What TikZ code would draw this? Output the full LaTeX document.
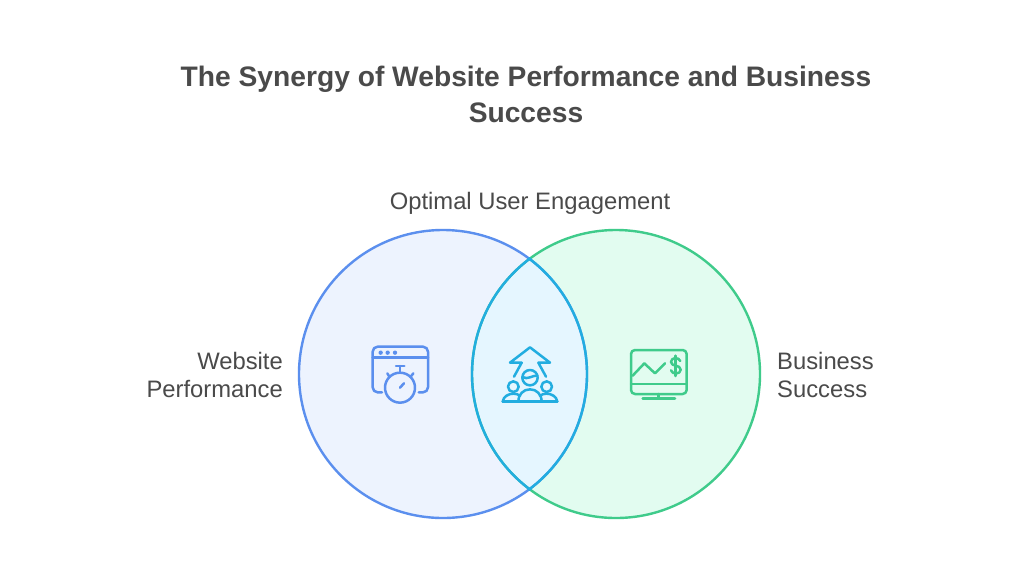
\documentclass[tikz,border=0pt]{standalone}
\usepackage{fontspec}
\setmainfont{Liberation Sans}
\definecolor{txt}{HTML}{4A4A4A}
\definecolor{blueS}{HTML}{5B8FEE}
\definecolor{blueF}{HTML}{EDF3FE}
\definecolor{greenS}{HTML}{3FCB8B}
\definecolor{greenF}{HTML}{E2FCF0}
\definecolor{cyanS}{HTML}{22ADE0}
\definecolor{cyanF}{HTML}{E5F6FF}
\tikzset{
  ring/.style={line width=2.4pt},
  ico/.style={line width=2.5pt,line cap=round,line join=round},
  title/.style={font=\fontsize{28.2}{36}\selectfont\bfseries,text=txt,align=center},
  lbl/.style={font=\fontsize{23.8}{28}\selectfont,text=txt,inner sep=0pt}
}
\begin{document}
\begin{tikzpicture}[x=1pt,y=-1pt]
\useasboundingbox (0,0) rectangle (1024,576);
\fill[white] (0,0) rectangle (1024,576);
% circles
\fill[blueF] (443,374) circle[radius=144];
\fill[greenF] (616,374) circle[radius=144];
\begin{scope}
  \clip (443,374) circle[radius=144];
  \fill[cyanF] (616,374) circle[radius=144];
\end{scope}
\draw[ring,blueS] (443,374) circle[radius=144];
\draw[ring,greenS] (616,374) circle[radius=144];
\begin{scope}
  \clip (443,374) circle[radius=145.5];
  \draw[ring,cyanS] (616,374) circle[radius=144];
\end{scope}
\begin{scope}
  \clip (616,374) circle[radius=145.5];
  \draw[ring,cyanS] (443,374) circle[radius=144];
\end{scope}
% texts
\node[title] (ttl) at (526,94) {The Synergy of Website Performance and Business\\Success};
\node[lbl] (top) at (530,203.5) {Optimal User Engagement};
\node[lbl,align=right,anchor=east] (web) at (283,374.5) {Website\\Performance};
\node[lbl,align=left,anchor=west] (biz) at (777,374.5) {Business\\Success};
% stopwatch icon
\begin{scope}[ico,blueS,shift={(360,335)},x=0.3333pt,y=-0.3333pt]
  \draw[rounded corners=5pt] (66,172) -- (38,172) -- (38,35) -- (204,35) -- (204,172) -- (176,172);
  \draw (38,68) -- (204,68);
  \fill (62,53) circle[radius=6.5] (83,53) circle[radius=6.5] (105,53) circle[radius=6.5];
  \draw (120,158) circle[radius=45];
  \draw (120,113) -- (120,93);
  \draw (108,93) -- (133,93);
  \draw (152,125) -- (160,115);
  \draw (88,125) -- (82,115);
  \draw (120,158) -- (132,145);
\end{scope}
% engagement icon
\begin{scope}[ico,cyanS,shift={(490,335)},x=0.3333pt,y=-0.3333pt]
  \draw (72,125) -- (95,83) -- (60,83) -- (120,37) -- (180,83) -- (145,83) -- (168,125);
  \draw (120,128) circle[radius=23];
  \draw (98,126) .. controls (112,136) and (128,120) .. (142,122);
  \draw (70,155) circle[radius=16];
  \draw (170,155) circle[radius=16];
  \draw (38,200) -- (202,200);
  \draw (85,200) .. controls (85,178) and (100,163) .. (120,163) .. controls (140,163) and (155,178) .. (155,200);
  \draw (38,200) .. controls (40,185) and (55,176) .. (70,176) .. controls (78,176) and (84,178) .. (90,182);
  \draw (202,200) .. controls (200,185) and (185,176) .. (170,176) .. controls (162,176) and (156,178) .. (150,182);
\end{scope}
% monitor icon
\begin{scope}[ico,greenS,shift={(620,335)},x=0.3333pt,y=-0.3333pt]
  \draw[rounded corners=4pt] (33,45) rectangle (200,177);
  \draw (33,147) -- (200,147);
  \draw (115,177) -- (115,190);
  \draw (68,190) -- (165,190);
  \draw (38,122) -- (73,85) -- (105,115) -- (135,85);
  \draw (181,78) .. controls (177,66) and (153,66) .. (153,81) .. controls (153,96) and (182,88) .. (182,104) .. controls (182,119) and (156,119) .. (153,106);
  \draw (167,62) -- (167,123);
\end{scope}
\end{tikzpicture}
\end{document}
